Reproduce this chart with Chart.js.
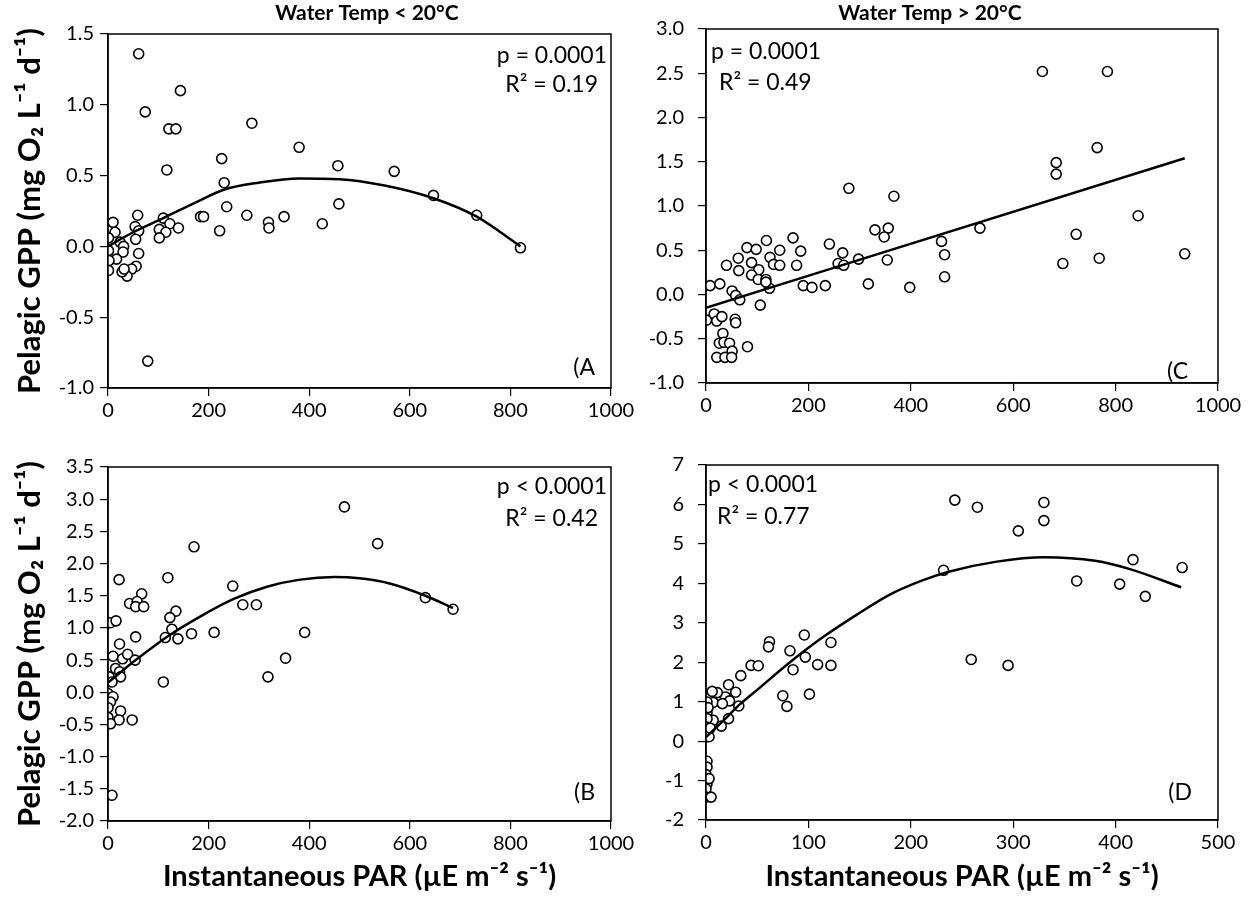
<!DOCTYPE html>
<html lang="en">
<head>
<meta charset="utf-8">
<title>Pelagic GPP vs Instantaneous PAR</title>
<script src="https://cdn.jsdelivr.net/npm/chart.js@4.4.1/dist/chart.umd.min.js"></script>
<style>
  html, body { margin: 0; padding: 0; background: #fff; }
  #page { position: relative; width: 1253px; height: 909px; overflow: hidden; }
  #page canvas { position: absolute; }
</style>
</head>
<body>
<div id="page">
  <canvas id="chart-a" width="640" height="430" style="left:0;top:0"></canvas>
  <canvas id="chart-c" width="613" height="430" style="left:640px;top:0"></canvas>
  <canvas id="chart-b" width="640" height="479" style="left:0;top:430px"></canvas>
  <canvas id="chart-d" width="613" height="479" style="left:640px;top:430px"></canvas>
</div>
<script>
// --- Panel A: water temp < 20 C, first period ---
const parA = [61, 144, 74, 121, 135, 286, 117, 226, 380, 457, 231, 459, 236, 276, 184, 190, 319, 320, 350, 426,
  222, 110, 123, 140, 102, 115, 102, 79, 59, 54, 61, 55, 61, 56, 47, 38, 28, 32, 10, 14,
  1, 24, 31, 30, 1, 17, 2, 1, 569, 647, 733, 820];
const gppA = [1.36, 1.10, 0.95, 0.83, 0.83, 0.87, 0.54, 0.62, 0.70, 0.57, 0.45, 0.30, 0.28, 0.22, 0.21, 0.21, 0.17, 0.13, 0.21, 0.16,
  0.11, 0.20, 0.16, 0.13, 0.12, 0.10, 0.06, -0.81, 0.22, 0.14, 0.11, 0.05, -0.05, -0.14, -0.16, -0.21, -0.18, -0.16, 0.17, 0.10,
  0.06, 0.03, 0.00, -0.04, -0.03, -0.09, -0.10, -0.17, 0.53, 0.36, 0.22, -0.01];
const fitParA = [0, 50, 110, 180, 230, 300, 380, 460, 550, 647, 733, 820];
const fitGppA = [0.0, 0.10, 0.20, 0.32, 0.40, 0.45, 0.48, 0.475, 0.43, 0.34, 0.21, 0.0];

// --- Panel C: water temp > 20 C ---
const parC = [279, 367, 330, 356, 348, 354, 460, 466, 466, 267, 241, 170, 185, 177, 118, 144, 125, 132, 144, 80,
  98, 63, 64, 40, 89, 103, 89, 102, 117, 124, 117, 190, 207, 233, 258, 269, 298, 317, 398, 8,
  27, 51, 58, 66, 106, 1, 16, 21, 31, 57, 58, 33, 26, 35, 46, 51, 21, 37, 50, 81,
  657, 784, 764, 684, 684, 844, 535, 723, 697, 768, 935];
const gppC = [1.20, 1.11, 0.73, 0.75, 0.65, 0.39, 0.60, 0.45, 0.20, 0.47, 0.57, 0.64, 0.49, 0.33, 0.61, 0.50, 0.42, 0.34, 0.33, 0.53,
  0.51, 0.41, 0.27, 0.33, 0.36, 0.28, 0.22, 0.17, 0.17, 0.07, 0.14, 0.10, 0.08, 0.10, 0.35, 0.33, 0.40, 0.12, 0.08, 0.10,
  0.12, 0.04, -0.01, -0.06, -0.12, -0.29, -0.22, -0.30, -0.25, -0.28, -0.32, -0.44, -0.55, -0.54, -0.55, -0.64, -0.71, -0.71, -0.71, -0.59,
  2.52, 2.52, 1.66, 1.49, 1.36, 0.89, 0.75, 0.68, 0.35, 0.41, 0.46];
const fitParC = [0, 935];
const fitGppC = [-0.15, 1.54];

// --- Panel B: water temp < 20 C, second period ---
const parB = [470, 171, 119, 22, 248, 268, 295, 67, 43, 58, 55, 71, 135, 123, 127, 114, 139, 166, 211, 391,
  353, 318, 110, 5, 16, 55, 23, 10, 29, 39, 54, 15, 23, 25, 2, 8, 0, 10, 5, 0,
  25, 0, 22, 5, 48, 8, 536, 631, 686];
const gppB = [2.88, 2.26, 1.78, 1.75, 1.65, 1.36, 1.36, 1.53, 1.38, 1.41, 1.33, 1.33, 1.26, 1.16, 0.98, 0.85, 0.83, 0.91, 0.93, 0.93,
  0.53, 0.24, 0.16, 1.08, 1.11, 0.86, 0.75, 0.56, 0.52, 0.59, 0.50, 0.37, 0.32, 0.24, 0.24, 0.16, -0.02, -0.07, -0.15, -0.24,
  -0.29, -0.39, -0.43, -0.49, -0.43, -1.60, 2.31, 1.47, 1.29];
const fitParB = [0, 55, 117, 184, 250, 316, 382, 450, 500, 560, 631, 686];
const fitGppB = [0.15, 0.50, 0.86, 1.18, 1.45, 1.64, 1.75, 1.79, 1.77, 1.69, 1.50, 1.31];

// --- Panel D: water temp > 20 C, second period ---
const parD = [232, 96, 62, 61, 82, 122, 97, 44, 51, 85, 109, 122, 34, 22, 75, 79, 101, 32, 29, 19,
  23, 11, 6, 7, 1, 16, 22, 15, 7, 1, 1, 0, 3, 4, 1, 1, 0, 1, 0, 0,
  5, 2, 3, 243, 265, 330, 330, 305, 417, 465, 362, 404, 429, 259, 295];
const gppD = [4.33, 2.69, 2.52, 2.39, 2.29, 2.50, 2.13, 1.92, 1.91, 1.81, 1.94, 1.92, 1.66, 1.43, 1.15, 0.88, 1.19, 0.89, 1.24, 1.12,
  1.02, 1.23, 1.26, 0.98, 0.99, 0.95, 0.57, 0.38, 0.53, 0.72, 0.57, 0.36, 0.11, 0.33, -0.51, -0.66, -0.85, -1.08, -1.21, -1.42,
  -1.42, 0.85, -0.95, 6.11, 5.93, 6.05, 5.59, 5.33, 4.60, 4.40, 4.06, 3.98, 3.67, 2.07, 1.92];
const fitParD = [0, 17, 33, 50, 82, 115, 147, 180, 212, 238, 284, 330, 380, 414, 464];
const fitGppD = [0.10, 0.52, 0.93, 1.30, 2.00, 2.65, 3.20, 3.72, 4.08, 4.30, 4.55, 4.66, 4.57, 4.36, 3.90];

// --- Tick labels ---
const xTicksWide = ["0", "200", "400", "600", "800", "1000"];
const xTicksD = ["0", "100", "200", "300", "400", "500"];
const yTicksA = ["-1.0", "-0.5", "0.0", "0.5", "1.0", "1.5"];
const yTicksC = ["-1.0", "-0.5", "0.0", "0.5", "1.0", "1.5", "2.0", "2.5", "3.0"];
const yTicksB = ["-2.0", "-1.5", "-1.0", "-0.5", "0.0", "0.5", "1.0", "1.5", "2.0", "2.5", "3.0", "3.5"];
const yTicksD = ["-2", "-1", "0", "1", "2", "3", "4", "5", "6", "7"];

// --- Texts ---
const yTitle = "Pelagic GPP (mg O\u2082 L\u207B\u00B9 d\u207B\u00B9)";
const xTitle = "Instantaneous PAR (\u00B5E m\u207B\u00B2 s\u207B\u00B9)";

const FONT = "Lato";
const tickFont = { family: FONT, size: 20 };

function toPoints(xs, ys) {
  return xs.map((x, i) => ({ x: x, y: ys[i] }));
}

// draws the closed frame around each plot area
const frameBox = {
  id: "frameBox",
  afterDraw(chart) {
    const { ctx, chartArea: a } = chart;
    ctx.save();
    ctx.strokeStyle = "#000";
    ctx.lineWidth = 1.5;
    ctx.strokeRect(a.left, a.top, a.right - a.left, a.bottom - a.top);
    ctx.restore();
  },
};

// panel titles, p / R2 notes and panel letters
const panelText = {
  id: "panelText",
  afterDraw(chart, args, opts) {
    const { ctx, chartArea: a } = chart;
    ctx.save();
    ctx.fillStyle = "#000";
    ctx.textBaseline = "middle";
    (opts.items || []).forEach((it) => {
      ctx.font = it.font;
      ctx.textAlign = it.align;
      const x = it.from === "left" ? a.left + it.dx : a.right - it.dx;
      const y = it.bottom ? a.bottom - it.dy : a.top + it.dy;
      ctx.fillText(it.text, x, y);
    });
    ctx.restore();
  },
};

function ticksFrom(labels) {
  return (scale) => {
    scale.ticks = labels.map((l) => ({ value: Number(l) }));
  };
}

function xAxis(labels, height, withTitle) {
  return {
    type: "linear",
    min: Number(labels[0]),
    max: Number(labels[labels.length - 1]),
    afterBuildTicks: ticksFrom(labels),
    afterFit: (s) => {
      s.height = height;
      s.paddingLeft = 0;
      s.paddingRight = 0;
    },
    ticks: {
      font: tickFont,
      color: "#000",
      padding: 3,
      maxRotation: 0,
      autoSkip: false,
      callback: (v, i) => labels[i],
    },
    grid: { drawOnChartArea: false, drawTicks: true, tickLength: 8, color: "#000", lineWidth: 1.2 },
    border: { display: true, color: "#000", width: 1.5 },
    title: {
      display: withTitle,
      text: xTitle,
      color: "#000",
      font: { family: FONT, size: 29, weight: "bold" },
      padding: { top: 0, bottom: 14.6 },
    },
  };
}

function yAxis(labels, width, withTitle, pad) {
  return {
    type: "linear",
    min: Number(labels[0]),
    max: Number(labels[labels.length - 1]),
    afterBuildTicks: ticksFrom(labels),
    afterFit: (s) => {
      s.width = width;
      s.paddingTop = 0;
      s.paddingBottom = 0;
    },
    ticks: {
      font: tickFont,
      color: "#000",
      padding: pad,
      autoSkip: false,
      callback: (v, i) => labels[i],
    },
    grid: { drawOnChartArea: false, drawTicks: true, tickLength: 8, color: "#000", lineWidth: 1.2 },
    border: { display: true, color: "#000", width: 1.5 },
    title: {
      display: withTitle,
      text: yTitle,
      color: "#000",
      font: { family: FONT, size: 31, weight: "bold" },
      padding: { top: 11, bottom: 0 },
    },
  };
}

function makePanel(id, cfg) {
  const ctx = document.getElementById(id).getContext("2d");
  return new Chart(ctx, {
    type: "scatter",
    data: {
      datasets: [
        {
          label: "fit",
          data: toPoints(cfg.fitX, cfg.fitY),
          showLine: true,
          borderColor: "#000",
          borderWidth: 2.5,
          pointRadius: 0,
          cubicInterpolationMode: "monotone",
          order: 0,
        },
        {
          label: "GPP",
          data: toPoints(cfg.x, cfg.y),
          pointRadius: 5,
          pointBackgroundColor: "#fff",
          pointBorderColor: "#000",
          pointBorderWidth: 1.6,
          order: 1,
        },
      ],
    },
    options: {
      responsive: false,
      animation: false,
      layout: { padding: cfg.padding },
      plugins: {
        legend: { display: false },
        tooltip: { enabled: false },
        panelText: { items: cfg.notes },
      },
      scales: { x: cfg.xScale, y: cfg.yScale },
    },
    plugins: [frameBox, panelText],
  });
}

const noteFont = "23px " + FONT;
const headFont = "bold 21px " + FONT;

makePanel("chart-a", {
  x: parA, y: gppA, fitX: fitParA, fitY: fitGppA,
  padding: { top: 34, right: 29, left: 0, bottom: 0 },
  xScale: xAxis(xTicksWide, 42, false),
  yScale: yAxis(yTicksA, 108, true, 6),
  notes: [
    { text: "Water Temp < 20\u00B0C", font: headFont, align: "center", from: "left", dx: 259, dy: -21 },
    { text: "p = 0.0001", font: noteFont, align: "right", from: "right", dx: 4, dy: 22 },
    { text: "R\u00B2 = 0.19", font: noteFont, align: "right", from: "right", dx: 13, dy: 51 },
    { text: "(A", font: noteFont, align: "right", from: "right", dx: 16, dy: 20, bottom: true },
  ],
});

makePanel("chart-c", {
  x: parC, y: gppC, fitX: fitParC, fitY: fitGppC,
  padding: { top: 29, right: 35, left: 0, bottom: 0 },
  xScale: xAxis(xTicksWide, 47, false),
  yScale: yAxis(yTicksC, 66, false, 14),
  notes: [
    { text: "Water Temp > 20\u00B0C", font: headFont, align: "center", from: "left", dx: 224, dy: -16 },
    { text: "p = 0.0001", font: noteFont, align: "left", from: "left", dx: 5, dy: 23 },
    { text: "R\u00B2 = 0.49", font: noteFont, align: "left", from: "left", dx: 13, dy: 54 },
    { text: "(C", font: noteFont, align: "right", from: "right", dx: 30, dy: 11, bottom: true },
  ],
});

makePanel("chart-b", {
  x: parB, y: gppB, fitX: fitParB, fitY: fitGppB,
  padding: { top: 37, right: 29, left: 0, bottom: 0 },
  xScale: xAxis(xTicksWide, 88, true),
  yScale: yAxis(yTicksB, 108, true, 6),
  notes: [
    { text: "p < 0.0001", font: noteFont, align: "right", from: "right", dx: 4, dy: 20 },
    { text: "R\u00B2 = 0.42", font: noteFont, align: "right", from: "right", dx: 13, dy: 52 },
    { text: "(B", font: noteFont, align: "right", from: "right", dx: 16, dy: 28, bottom: true },
  ],
});

makePanel("chart-d", {
  x: parD, y: gppD, fitX: fitParD, fitY: fitGppD,
  padding: { top: 35, right: 35, left: 0, bottom: 0 },
  xScale: xAxis(xTicksD, 89, true),
  yScale: yAxis(yTicksD, 66, false, 14),
  notes: [
    { text: "p < 0.0001", font: noteFont, align: "left", from: "left", dx: 2, dy: 20 },
    { text: "R\u00B2 = 0.77", font: noteFont, align: "left", from: "left", dx: 11, dy: 52 },
    { text: "(D", font: noteFont, align: "right", from: "right", dx: 26, dy: 27, bottom: true },
  ],
});
</script>
</body>
</html>
